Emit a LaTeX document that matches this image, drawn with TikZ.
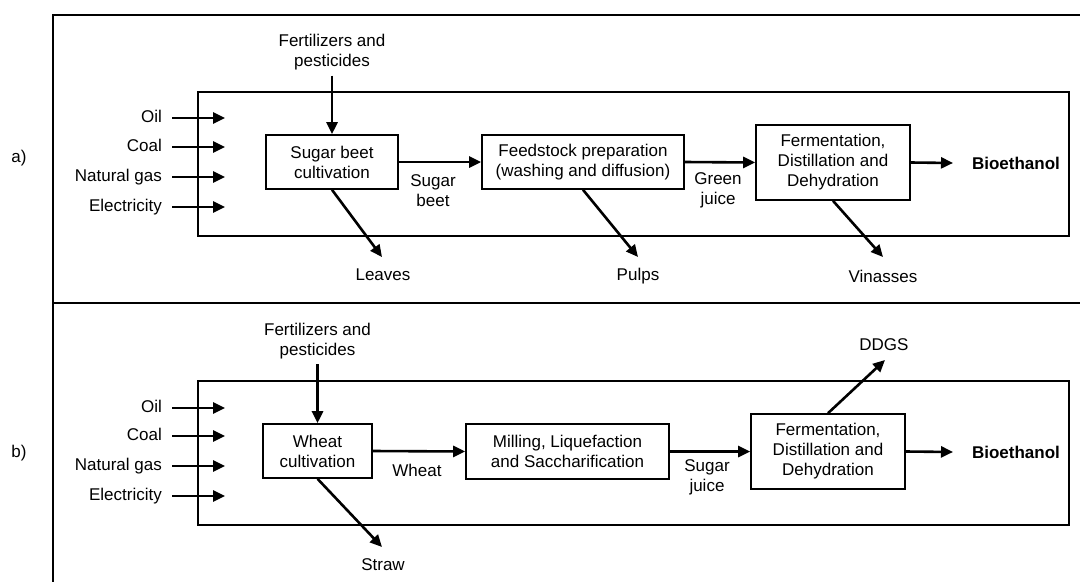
\documentclass[tikz,border=0pt]{standalone}
\usepackage{fontspec}
\setmainfont{Liberation Sans}
\usetikzlibrary{arrows.meta}
\begin{document}
\begin{tikzpicture}[x=1pt,y=-1pt,
  every node/.style={font=\fontsize{17}{20}\selectfont, inner sep=0pt},
  proc/.style={draw, line width=1.6pt, align=center, inner sep=0pt},
  lbl/.style={align=center},
  word/.style={text height=12pt, text depth=3.5pt},
  flow/.style={line width=2.6pt, -{Triangle[length=12pt,width=11pt]}},
  frameline/.style={line width=2pt},
  area/.style={line width=1.6pt}]
\useasboundingbox (0,0) rectangle (1080,582);

% outer frame
\draw[frameline] (1080,15) -- (53,15) -- (53,582);
\draw[frameline] (53,303) -- (1080,303);
% inner system boundaries
\draw[area] (198,92) rectangle (1069,236);
\draw[area] (198,381) rectangle (1069,525);

% ---------------- panel a ----------------
\node (la) at (19,158) {a)};

\node[word, anchor=east] (oilA) at (162,118) {Oil};
\node[word, anchor=east] (coalA) at (162,147) {Coal};
\node[word, anchor=east] (gasA) at (162,177) {Natural gas};
\node[word, anchor=east] (elA) at (162,207) {Electricity};
\coordinate (oilAe) at (225,118);
\coordinate (coalAe) at (225,147);
\coordinate (gasAe) at (225,177);
\coordinate (elAe) at (225,207);
\draw[flow, shorten <=10pt] (oilA.east) -- (oilAe);
\draw[flow, shorten <=10pt] (coalA.east) -- (coalAe);
\draw[flow, shorten <=10pt] (gasA.east) -- (gasAe);
\draw[flow, shorten <=10pt] (elA.east) -- (elAe);

\node[lbl] (fertA) at (332,52.5) {Fertilizers and\\pesticides};
\node[proc, minimum width=132pt, minimum height=54pt] (sbA) at (332,162) {Sugar beet\\cultivation};
\node[proc, minimum width=202pt, minimum height=54pt] (fpA) at (583,162) {Feedstock preparation\\(washing and diffusion)};
\node[proc, minimum width=154pt, minimum height=75pt] (fdA) at (833,162.5) {Fermentation,\\Distillation and\\Dehydration};
\node[font=\fontsize{17}{20}\selectfont\bfseries] (bioA) at (1016,163) {Bioethanol};

\node[lbl] (sbl) at (433,190.5) {Sugar\\beet};
\node[lbl] (gjl) at (718,190) {Green\\juice};

\draw[flow, shorten <=5pt] (fertA.south) -- (sbA.north);
\draw[flow] (sbA.east) -- (fpA.west);
\draw[flow] (fpA.east) -- (fdA.west);
\coordinate (bioAe) at (953,163);
\draw[flow] (fdA.east) -- (bioAe);

\node (leaves) at (383,275) {Leaves};
\node (pulps) at (638,276) {Pulps};
\node (vin) at (883,276) {Vinasses};
\coordinate (leavesE) at (382,257);
\coordinate (pulpsE) at (638,257);
\coordinate (vinE) at (883,257);
\draw[flow] (sbA.south) -- (leavesE);
\draw[flow] (fpA.south) -- (pulpsE);
\draw[flow] (fdA.south) -- (vinE);

% ---------------- panel b ----------------
\node (lb) at (19,453) {b)};

\node[word, anchor=east] (oilB) at (162,408) {Oil};
\node[word, anchor=east] (coalB) at (162,436) {Coal};
\node[word, anchor=east] (gasB) at (162,466) {Natural gas};
\node[word, anchor=east] (elB) at (162,496) {Electricity};
\coordinate (oilBe) at (225,408);
\coordinate (coalBe) at (225,436);
\coordinate (gasBe) at (225,466);
\coordinate (elBe) at (225,496);
\draw[flow, shorten <=10pt] (oilB.east) -- (oilBe);
\draw[flow, shorten <=10pt] (coalB.east) -- (coalBe);
\draw[flow, shorten <=10pt] (gasB.east) -- (gasBe);
\draw[flow, shorten <=10pt] (elB.east) -- (elBe);

\node[lbl] (fertB) at (317.5,341) {Fertilizers and\\pesticides};
\node[proc, minimum width=109pt, minimum height=54pt] (wcB) at (317.5,451) {Wheat\\cultivation};
\node[proc, minimum width=203pt, minimum height=55pt] (mlB) at (567.5,451.5) {Milling, Liquefaction\\and Saccharification};
\node[proc, minimum width=154pt, minimum height=75pt] (fdB) at (828,451.5) {Fermentation,\\Distillation and\\Dehydration};
\node[font=\fontsize{17}{20}\selectfont\bfseries] (bioB) at (1016,452) {Bioethanol};

\node[lbl] (wl) at (417,470) {Wheat};
\node[lbl] (sjl) at (707,477.5) {Sugar\\juice};

\draw[flow, shorten <=5pt] (fertB.south) -- (wcB.north);
\draw[flow] (wcB.east) -- (mlB.west);
\draw[flow] (mlB.east) -- (fdB.west);
\coordinate (bioBe) at (953,452);
\draw[flow] (fdB.east) -- (bioBe);

\node (ddgs) at (884,345) {DDGS};
\coordinate (ddgsE) at (885,360);
\draw[flow] (fdB.north) -- (ddgsE);

\node (straw) at (383,565) {Straw};
\coordinate (strawE) at (382,547);
\draw[flow] (wcB.south) -- (strawE);
\end{tikzpicture}
\end{document}
